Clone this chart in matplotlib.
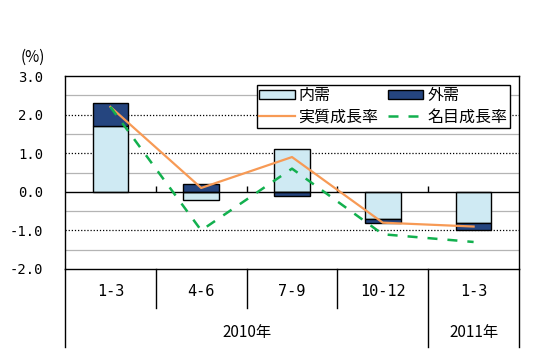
import numpy as np
import matplotlib
matplotlib.use("Agg")
import matplotlib.pyplot as plt
from matplotlib.patches import Patch
from matplotlib.lines import Line2D
import matplotlib.transforms as mtrans

plt.rcParams['font.family'] = ['Noto Sans CJK JP', 'DejaVu Sans']

quarters = ["1-3", "4-6", "7-9", "10-12", "1-3"]
years = ["2010年", "2011年"]
domestic = [1.7, -0.2, 1.1, -0.7, -0.8]      # 内需
external = [0.6, 0.2, -0.1, -0.1, -0.2]      # 外需
real_growth = [2.2, 0.1, 0.9, -0.8, -0.9]    # 実質成長率
nominal_growth = [2.2, -1.0, 0.6, -1.1, -1.3]  # 名目成長率
yticks = [3.0, 2.0, 1.0, 0.0, -1.0, -2.0]

W, H = 534, 355
fig = plt.figure(figsize=(W / 100, H / 100), dpi=100)
ax = fig.add_axes([65 / W, 1 - 269 / H, (519 - 65) / W, (269 - 76) / H])

x = np.arange(len(quarters))
dom = np.array(domestic)
ext = np.array(external)
ext_bottom = np.where(np.sign(dom) == np.sign(ext), dom, 0.0)

c_dom = '#cfeaf3'
c_ext = '#25457f'
c_real = '#f79a55'
c_nom = '#12b04e'
mono = 'DejaVu Sans Mono'

# grid
for v in [2.5, 1.5, 0.5, -0.5, -1.5]:
    ax.axhline(v, color='#b4b4b4', lw=0.9, zorder=0)
for v in [2.0, 1.0, -1.0]:
    ax.axhline(v, color='black', lw=0.9, ls=(0, (1, 1.5)), zorder=0)

bw = 0.39
ax.bar(x, dom, width=bw, color=c_dom, edgecolor='black', lw=1, zorder=2)
ax.bar(x, ext, width=bw, bottom=ext_bottom, color=c_ext, edgecolor='black', lw=1, zorder=2)
ax.axhline(0, color='black', lw=1, zorder=3)
ax.vlines(np.arange(len(quarters) - 1) + 0.5, 0, 0.15, color='black', lw=1, zorder=3)

ax.plot(x, real_growth, color=c_real, lw=1.6, zorder=4)
ax.plot(x, nominal_growth, color=c_nom, lw=1.8, ls=(0, (4, 4)), zorder=4)

ax.set_xlim(-0.5, len(quarters) - 0.5)
ax.set_ylim(-2, 3)
ax.set_yticks(yticks)
ax.set_yticklabels([f"{v:.1f}" for v in yticks], fontsize=10, family=mono)
ax.tick_params(axis='y', length=0, pad=15.5)
ax.set_xticks([])
for s in ax.spines.values():
    s.set_linewidth(1)

# category table below
tr = mtrans.blended_transform_factory(ax.transData, ax.transAxes)
for i, q in enumerate(quarters):
    ax.text(i, -0.119, q, transform=tr, ha='center', va='center', fontsize=11, family=mono)
ax.text(1.5, -0.33, years[0], transform=tr, ha='center', va='center', fontsize=11)
ax.text(4, -0.33, years[1], transform=tr, ha='center', va='center', fontsize=11)
for b in [0.5, 1.5, 2.5]:
    ax.plot([b, b], [0, -0.2], color='black', lw=1, transform=tr, clip_on=False)
for b in [-0.5, 3.5, 4.5]:
    ax.plot([b, b], [0, -0.405], color='black', lw=1, transform=tr, clip_on=False)

fig.text(32.5 / W, 1 - 57 / H, "(%)", ha='center', va='center', fontsize=11)

handles = [Patch(facecolor=c_dom, edgecolor='black', lw=1),
           Line2D([], [], color=c_real, lw=1.6),
           Patch(facecolor=c_ext, edgecolor='black', lw=1),
           Line2D([], [], color=c_nom, lw=1.8, ls=(0, (4, 4)))]
labels = ["内需", "実質成長率", "外需", "名目成長率"]
leg = fig.legend(handles, labels, ncol=2, loc='upper left',
                 bbox_to_anchor=(257 / W, 1 - 85 / H), fontsize=11.5,
                 frameon=True, fancybox=False, edgecolor='black',
                 framealpha=1, borderpad=0.15, handlelength=2.2,
                 handleheight=0.45, handletextpad=0.25, columnspacing=0.6,
                 labelspacing=0.25, borderaxespad=0)
leg.get_frame().set_linewidth(1)

fig.savefig("out.png", dpi=100)
